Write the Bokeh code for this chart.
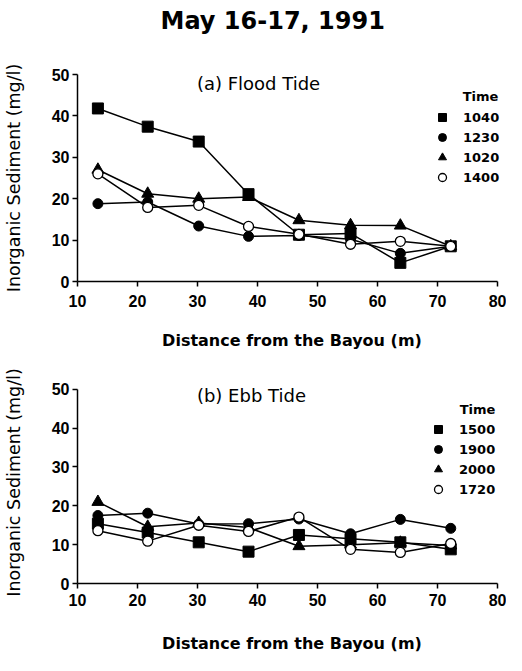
from bokeh.plotting import figure
from bokeh.models import Range1d, Legend, LegendItem, Label, FixedTicker, Title
from bokeh.layouts import column
from bokeh.embed import file_html
from bokeh.resources import INLINE

# ---------------- data ----------------
distance = [13.4, 21.7, 30.2, 38.5, 46.9, 55.5, 63.8, 72.2]

flood_times = ["1040", "1230", "1020", "1400"]
flood_1040 = [41.8, 37.4, 33.8, 21.1, 11.3, 11.6, 4.5, 8.5]
flood_1230 = [18.8, 19.2, 13.4, 10.9, 11.1, 10.2, 6.8, 8.5]
flood_1020 = [27.0, 21.2, 20.0, 20.4, 14.8, 13.6, 13.5, 8.5]
flood_1400 = [26.0, 17.9, 18.4, 13.3, 11.4, 9.0, 9.7, 8.5]

ebb_times = ["1500", "1900", "2000", "1720"]
ebb_1500 = [15.4, 13.1, 10.6, 8.2, 12.5, 11.5, 10.6, 8.8]
ebb_1900 = [17.5, 18.1, 15.3, 15.4, 16.6, 12.8, 16.5, 14.2]
ebb_2000 = [21.0, 14.6, 15.6, 14.4, 9.6, 10.0, 10.5, 9.8]
ebb_1720 = [13.6, 10.9, 15.0, 13.4, 17.1, 8.8, 8.0, 10.3]

x_ticks = [10, 20, 30, 40, 50, 60, 70, 80]
y_ticks = [0, 10, 20, 30, 40, 50]

main_title = "May 16-17, 1991"
x_label = "Distance from the Bayou (m)"
y_label = "Inorganic Sediment (mg/l)"
legend_title = "Time"

# ---------------- styling ----------------
BOLD_FONT = "DejaVu Sans"
TICK_FONT = "Liberation Sans"
W = 506
X_END = 81.49   # frame runs a little past 80 so the legend text is not clipped

marker_styles = [
    dict(marker="square", size=11, fill_color="black", line_color="black"),
    dict(marker="circle", size=10, fill_color="black", line_color="black"),
    dict(marker="triangle", size=12, fill_color="black", line_color="black"),
    dict(marker="circle", size=10, fill_color="white", line_color="black", line_width=1.3),
]


def make_panel(height, border_top, border_bottom, y_top, series, times, subtitle,
               sub_pos, time_pos, legend_loc, tick_standoff_x, label_standoff_x):
    p = figure(width=W, height=height, output_backend="svg", toolbar_location=None,
               x_range=Range1d(10, X_END), y_range=Range1d(0, y_top),
               min_border_left=74, min_border_right=0,
               min_border_top=border_top, min_border_bottom=border_bottom)
    p.outline_line_color = None
    p.grid.visible = False
    p.background_fill_color = "white"
    p.border_fill_color = "white"

    for ax in (p.xaxis, p.yaxis):
        ax.axis_line_color = "black"
        ax.axis_line_width = 1.5
        ax.major_tick_line_color = "black"
        ax.major_tick_line_width = 1.5
        ax.major_tick_out = 5
        ax.major_tick_in = 0
        ax.minor_tick_line_color = None
        ax.major_label_text_font = TICK_FONT
        ax.major_label_text_font_style = "bold"
        ax.major_label_text_font_size = "16px"
        ax.major_label_text_color = "black"
        ax.axis_label_text_color = "black"

    p.xaxis.ticker = FixedTicker(ticks=x_ticks)
    p.yaxis.ticker = FixedTicker(ticks=y_ticks)
    p.xaxis.bounds = (10, 80)
    p.yaxis.bounds = (0, 50)
    p.xaxis.major_label_standoff = tick_standoff_x
    p.yaxis.major_label_standoff = 3

    p.xaxis.axis_label = x_label
    p.xaxis.axis_label_text_font = BOLD_FONT
    p.xaxis.axis_label_text_font_style = "bold"
    p.xaxis.axis_label_text_font_size = "16px"
    p.xaxis.axis_label_standoff = label_standoff_x

    p.yaxis.axis_label = y_label
    p.yaxis.axis_label_text_font = BOLD_FONT
    p.yaxis.axis_label_text_font_style = "normal"
    p.yaxis.axis_label_text_font_size = "17.5px"
    p.yaxis.axis_label_standoff = 25

    # lines first
    for ys in series:
        p.line(distance, ys, line_color="black", line_width=1.5)
    # markers on top
    renderers = []
    for ys, st in zip(series, marker_styles):
        r = p.scatter(distance, ys, **st)
        renderers.append(r)

    legend = Legend(
        items=[LegendItem(label=t, renderers=[r]) for t, r in zip(times, renderers)],
        location=legend_loc, orientation="vertical",
        glyph_width=20, glyph_height=20, label_height=20, label_width=42,
        spacing=0, padding=0, margin=0, label_standoff=11,
        border_line_color=None, background_fill_alpha=0,
        label_text_font=BOLD_FONT, label_text_font_style="bold",
        label_text_font_size="13px", label_text_color="black",
    )
    p.add_layout(legend)

    p.add_layout(Label(x=time_pos[0], y=time_pos[1], text=legend_title,
                       text_font=BOLD_FONT, text_font_style="bold",
                       text_font_size="13px", text_baseline="middle",
                       text_align="left", text_color="black"))
    p.add_layout(Label(x=sub_pos[0], y=sub_pos[1], text=subtitle,
                       text_font=BOLD_FONT, text_font_style="normal",
                       text_font_size="18px", text_baseline="middle",
                       text_align="left", text_color="black"))
    return p


top = make_panel(367, 74, 86, 50,
                 [flood_1040, flood_1230, flood_1020, flood_1400], flood_times,
                 "(a) Flood Tide", (29.9, 47.8), (74.2, 44.7), (355, 94), 8, 21)
# spacer between frame and main title
top.add_layout(Title(text=" ", text_font_size="2px", standoff=36), "above")
top.title.text = main_title
top.title.align = "left"
top.title.offset = 83
top.title.text_font = BOLD_FONT
top.title.text_font_style = "bold"
top.title.text_font_size = "24px"
top.title.text_color = "black"
top.title.standoff = 0

bottom = make_panel(288, 14, 64, 52,
                    [ebb_1500, ebb_1900, ebb_2000, ebb_1720], ebb_times,
                    "(b) Ebb Tide", (29.9, 48.5), (73.7, 44.7), (351, 84), 5, 25)

layout = column(top, bottom, spacing=0)

open("out.html", "w").write(file_html(layout, INLINE))
